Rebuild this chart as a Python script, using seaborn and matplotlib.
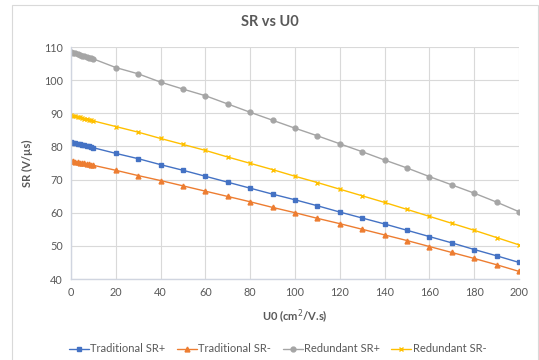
import numpy as np
import pandas as pd
import matplotlib
matplotlib.use("Agg")
import matplotlib.pyplot as plt
import seaborn as sns
from matplotlib.patches import Rectangle

u0 = [0, 1, 2, 3, 4, 5, 6, 7, 8, 9, 10,
      20, 30, 40, 50, 60, 70, 80, 90, 100, 110, 120, 130, 140, 150, 160, 170, 180, 190, 200]

trad_sr_plus = [81.3, 81.1, 81.0, 80.8, 80.6, 80.5, 80.3, 80.1, 80.0, 79.8, 79.6,
                77.9, 76.3, 74.5, 72.8, 71.0, 69.2, 67.4, 65.6, 63.9, 62.1, 60.2, 58.4,
                56.6, 54.7, 52.8, 50.9, 48.9, 47.0, 45.0]
trad_sr_minus = [75.7, 75.6, 75.4, 75.3, 75.1, 75.0, 74.9, 74.7, 74.6, 74.4, 74.3,
                 72.8, 71.2, 69.7, 68.1, 66.5, 64.9, 63.3, 61.6, 60.0, 58.3, 56.7, 55.0,
                 53.3, 51.6, 49.8, 48.0, 46.2, 44.3, 42.3]
red_sr_plus = [108.5, 108.3, 108.1, 107.8, 107.6, 107.4, 107.2, 107.0, 106.8, 106.6, 106.4,
               103.8, 101.9, 99.4, 97.3, 95.3, 92.8, 90.3, 87.9, 85.5, 83.2, 80.8, 78.4,
               75.9, 73.5, 70.9, 68.4, 65.9, 63.2, 60.3]
red_sr_minus = [89.5, 89.3, 89.1, 89.0, 88.8, 88.6, 88.4, 88.3, 88.1, 87.9, 87.7,
                86.0, 84.3, 82.4, 80.6, 78.8, 76.8, 74.9, 73.0, 71.0, 69.1, 67.1, 65.1,
                63.1, 61.0, 58.9, 56.8, 54.7, 52.5, 50.3]

series_names = ["Traditional SR+", "Traditional SR-", "Redundant SR+", "Redundant SR-"]
series_vals = [trad_sr_plus, trad_sr_minus, red_sr_plus, red_sr_minus]
colors = ["#4472C4", "#ED7D31", "#A5A5A5", "#FFC000"]
markers = ["s", "^", "o", "x"]
msizes = [2.5, 3.5, 3.5, 3.5]

x_ticks = list(range(0, 201, 20))
y_ticks = list(range(40, 111, 10))

sns.set_theme(style="white")
plt.rcParams["font.family"] = ["Lato", "DejaVu Sans"]

txt = "#595959"
grid_c = "#D9D9D9"

fig = plt.figure(figsize=(5.39, 3.60), dpi=100)
ax = fig.add_axes([71/539, 1-279/360, (519-71)/539, (279-47)/360])

for name, vals, c, m, ms in zip(series_names, series_vals, colors, markers, msizes):
    df = pd.DataFrame({"U0": u0, "SR": vals})
    sns.lineplot(data=df, x="U0", y="SR", ax=ax, color=c, marker=m, markersize=ms,
                 markeredgecolor=c, markeredgewidth=1, linewidth=1.0, label=name)

ax.set_xlim(0, 200)
ax.set_ylim(40, 110)
ax.set_xticks(x_ticks)
ax.set_yticks(y_ticks)
ax.grid(True, color=grid_c, linewidth=0.8)
ax.set_axisbelow(True)
for s in ["top", "right"]:
    ax.spines[s].set_visible(False)
for s in ["left", "bottom"]:
    ax.spines[s].set_color("#D0D5E0")
    ax.spines[s].set_linewidth(1.0)
ax.tick_params(axis="both", length=0, labelsize=7.8, colors=txt, pad=6)

ax.set_xlabel("U0 (cm$^2$/V.s)", fontsize=8, fontweight="bold", color=txt, labelpad=7)
ax.set_ylabel("SR (V/µs)", fontsize=8, fontweight="bold", color=txt, labelpad=8)
fig.text(0.5, 1-22/360, "SR vs U0", ha="center", va="center", fontsize=10.5,
         fontweight="bold", color=txt)

if ax.legend_:
    ax.legend_.remove()
handles, labels = ax.get_legend_handles_labels()
leg = fig.legend(handles, labels, loc="center", bbox_to_anchor=(0.515, 1-349/360), ncol=4,
                 frameon=False, fontsize=8, handlelength=1.8, handletextpad=0.1,
                 columnspacing=1.05, labelcolor=txt)

fig.patches.append(Rectangle((12/539, -0.05), (538-12)/539, 1-5/360+0.05,
                             transform=fig.transFigure, fill=False,
                             edgecolor="#D9D9D9", linewidth=0.8))

fig.savefig("out.png", dpi=100, facecolor="white")
